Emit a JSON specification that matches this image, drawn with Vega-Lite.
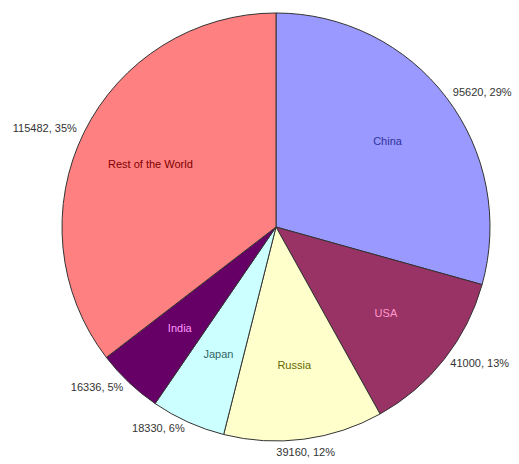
{
  "$schema": "https://vega.github.io/schema/vega-lite/v6.json",
  "width": 486,
  "height": 454,
  "autosize": "none",
  "padding": {"left": 33, "right": 0, "top": 0, "bottom": 10},
  "background": "white",
  "data": {
    "values": [
      {"country": "China", "value": 95620, "pct": "29%", "idx": 1, "side": "right"},
      {"country": "USA", "value": 41000, "pct": "13%", "idx": 2, "side": "right"},
      {"country": "Russia", "value": 39160, "pct": "12%", "idx": 3, "side": "bottom"},
      {"country": "Japan", "value": 18330, "pct": "6%", "idx": 4, "side": "left"},
      {"country": "India", "value": 16336, "pct": "5%", "idx": 5, "side": "left"},
      {"country": "Rest of the World", "value": 115482, "pct": "35%", "idx": 6, "side": "left"}
    ]
  },
  "transform": [
    {"calculate": "datum.value + ', ' + datum.pct", "as": "lbl"}
  ],
  "encoding": {
    "theta": {"field": "value", "type": "quantitative", "stack": true},
    "order": {"field": "idx", "type": "quantitative"}
  },
  "layer": [
    {
      "mark": {"type": "arc", "outerRadius": 214, "stroke": "#333333", "strokeWidth": 1},
      "encoding": {
        "color": {
          "field": "country", "type": "nominal", "legend": null,
          "scale": {
            "domain": ["China", "USA", "Russia", "Japan", "India", "Rest of the World"],
            "range": ["#9999FF", "#993366", "#FFFFCC", "#CCFFFF", "#660066", "#FF8080"]
          }
        }
      }
    },
    {
      "mark": {"type": "text", "radius": 140, "font": "Liberation Sans", "fontSize": 11},
      "encoding": {
        "text": {"field": "country"},
        "color": {
          "field": "country", "type": "nominal", "legend": null,
          "scale": {
            "domain": ["China", "USA", "Russia", "Japan", "India", "Rest of the World"],
            "range": ["#333399", "#FF99CC", "#666600", "#336666", "#FF99FF", "#800000"]
          }
        }
      }
    },
    {
      "mark": {"type": "text", "radius": 222, "align": "left", "font": "Liberation Sans", "fontSize": 11, "color": "#333333"},
      "encoding": {"text": {"condition": {"test": "datum.side == 'right'", "field": "lbl"}, "value": ""}}
    },
    {
      "mark": {"type": "text", "radius": 228, "align": "center", "font": "Liberation Sans", "fontSize": 11, "color": "#333333"},
      "encoding": {"text": {"condition": {"test": "datum.side == 'bottom'", "field": "lbl"}, "value": ""}}
    },
    {
      "mark": {"type": "text", "radius": 222, "align": "right", "font": "Liberation Sans", "fontSize": 11, "color": "#333333"},
      "encoding": {"text": {"condition": {"test": "datum.side == 'left'", "field": "lbl"}, "value": ""}}
    }
  ],
  "resolve": {"scale": {"color": "independent"}}
}
